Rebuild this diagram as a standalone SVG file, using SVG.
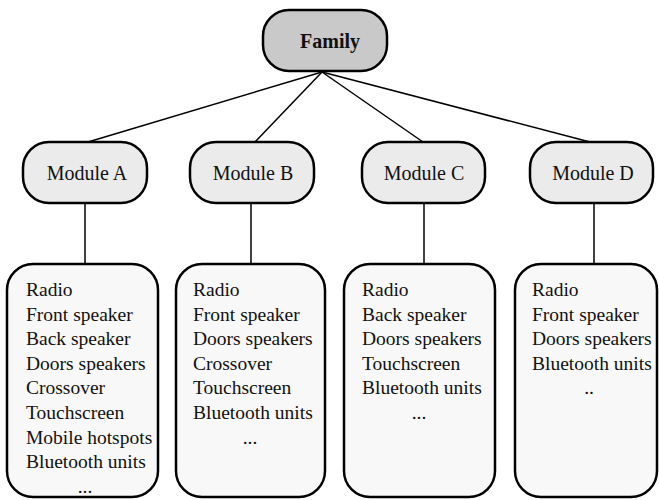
<svg xmlns="http://www.w3.org/2000/svg" width="659" height="500" viewBox="0 0 659 500">
<style>
.box{stroke:#000;stroke-width:2.5}
.fam{fill:#c9c9c9}
.mod{fill:#ebebeb}
.lst{fill:#f8f8f8}
text{font-family:'Liberation Serif',Tinos,'Times New Roman',Times,'DejaVu Serif',serif;fill:#111}
.mt{font-size:20px;text-anchor:middle}
.ft{font-size:20px;font-weight:bold;text-anchor:middle}
.lt{font-size:19.5px}
.c{stroke:#000;stroke-width:1.5;fill:none}
</style>
<rect width="659" height="500" fill="#fff"/>
<g id="connectors">
<line class="c" x1="322" y1="72" x2="88" y2="142"/>
<line class="c" x1="322" y1="72" x2="255" y2="142"/>
<line class="c" x1="322" y1="72" x2="423" y2="142"/>
<line class="c" x1="322" y1="72" x2="590" y2="142"/>
<line class="c" x1="85" y1="203" x2="85" y2="264"/>
<line class="c" x1="251" y1="203" x2="251" y2="264"/>
<line class="c" x1="424" y1="203" x2="424" y2="264"/>
<line class="c" x1="594" y1="203" x2="594" y2="264"/>
</g>
<g id="family">
<rect class="box fam" x="263" y="10" width="124" height="61" rx="26"/>
<text class="ft" x="330" y="48" font-family="Liberation Serif, serif">Family</text>
</g>
<g id="moduleA">
<rect class="box mod" x="23" y="142" width="124" height="61" rx="26"/>
<text class="mt" x="87" y="180">Module A</text>
</g>
<g id="moduleB">
<rect class="box mod" x="190" y="142" width="124" height="61" rx="26"/>
<text class="mt" x="253" y="180">Module B</text>
</g>
<g id="moduleC">
<rect class="box mod" x="362" y="142" width="123" height="61" rx="26"/>
<text class="mt" x="424" y="180">Module C</text>
</g>
<g id="moduleD">
<rect class="box mod" x="530" y="142" width="123" height="61" rx="26"/>
<text class="mt" x="593" y="180">Module D</text>
</g>
<g id="listA">
<rect class="box lst" x="7" y="264" width="151" height="233" rx="26"/>
<text class="lt" x="26" y="296">Radio</text>
<text class="lt" x="26" y="320.6">Front speaker</text>
<text class="lt" x="26" y="345.2">Back speaker</text>
<text class="lt" x="26" y="369.8">Doors speakers</text>
<text class="lt" x="26" y="394.4">Crossover</text>
<text class="lt" x="26" y="419">Touchscreen</text>
<text class="lt" x="26" y="443.6">Mobile hotspots</text>
<text class="lt" x="26" y="468.2">Bluetooth units</text>
<text class="lt" x="85" y="492.8" text-anchor="middle">...</text>
</g>
<g id="listB">
<rect class="box lst" x="176" y="264" width="149" height="233" rx="26"/>
<text class="lt" x="193" y="296">Radio</text>
<text class="lt" x="193" y="320.6">Front speaker</text>
<text class="lt" x="193" y="345.2">Doors speakers</text>
<text class="lt" x="193" y="369.8">Crossover</text>
<text class="lt" x="193" y="394.4">Touchscreen</text>
<text class="lt" x="193" y="419">Bluetooth units</text>
<text class="lt" x="250" y="443.6" text-anchor="middle">...</text>
</g>
<g id="listC">
<rect class="box lst" x="344" y="264" width="151" height="233" rx="26"/>
<text class="lt" x="362" y="296">Radio</text>
<text class="lt" x="362" y="320.6">Back speaker</text>
<text class="lt" x="362" y="345.2">Doors speakers</text>
<text class="lt" x="362" y="369.8">Touchscreen</text>
<text class="lt" x="362" y="394.4">Bluetooth units</text>
<text class="lt" x="419" y="419" text-anchor="middle">...</text>
</g>
<g id="listD">
<rect class="box lst" x="515" y="264" width="142" height="233" rx="26"/>
<text class="lt" x="532" y="296">Radio</text>
<text class="lt" x="532" y="320.6">Front speaker</text>
<text class="lt" x="532" y="345.2">Doors speakers</text>
<text class="lt" x="532" y="369.8">Bluetooth units</text>
<text class="lt" x="589" y="394.4" text-anchor="middle">..</text>
</g>
</svg>
